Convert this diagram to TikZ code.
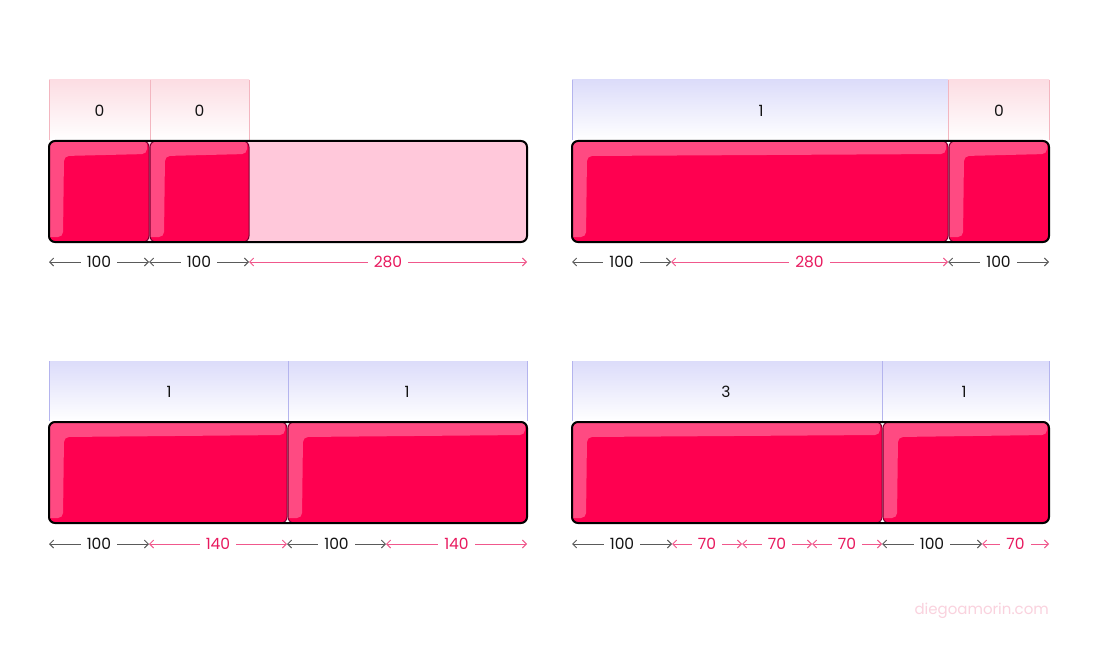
\documentclass[tikz,border=0pt]{standalone}
\usepackage{fontspec}
\setmainfont{Poppins}
\usetikzlibrary{arrows.meta}
\definecolor{mainred}{HTML}{FF0050}
\definecolor{hlred}{HTML}{FF4A82}
\definecolor{edgered}{HTML}{7A0030}
\definecolor{emptyfill}{HTML}{FFC8DA}
\definecolor{pinkhead}{HTML}{FCDDE3}
\definecolor{lavhead}{HTML}{DCDCFA}
\definecolor{pinkline}{HTML}{F3B6C0}
\definecolor{lavline}{HTML}{B4B4EE}
\definecolor{dimgray}{HTML}{5A5A5A}
\definecolor{dimpink}{HTML}{F0588C}
\definecolor{pinktext}{HTML}{E8195E}
\definecolor{wmark}{HTML}{FAD2DE}
\tikzset{
  lbl/.style={font=\fontsize{15.5}{15.5}\selectfont, text=black!92, inner sep=0},
  container/.style={draw=black, line width=2, rounded corners=6},
  itemedge/.style={draw=edgered, line width=1, rounded corners=6},
  dimblack/.style={draw=dimgray, line width=0.9, {Straight Barb[length=4,width=8]}-{Straight Barb[length=4,width=8]}},
  dimpinkst/.style={draw=dimpink, line width=0.9, {Straight Barb[length=4,width=8]}-{Straight Barb[length=4,width=8]}},
  dimtxt/.style={fill=white, inner xsep=6, inner ysep=1, font=\fontsize{15.5}{15.5}\selectfont},
}
% item: x1 y1 x2 y2
\newcommand\flexitem[4]{%
  \begin{scope}
    \clip[rounded corners=6] (#1,#2) rectangle (#3,#4);
    \fill[mainred] (#1,#2) rectangle (#3,#4);
    \fill[hlred, rounded corners=5] ({#1-6},{#2-6}) -- ({#3-2},{#2-6}) -- ({#3-2},{#2+13}) -- ({#1+15},{#2+15}) -- ({#1+14},{#4-5}) -- ({#1-6},{#4-5}) -- cycle;
  \end{scope}
  \draw[itemedge] (#1,#2) rectangle (#3,#4);
}
% header cell: x1 x2 y1 y2 colour
\newcommand\headcell[5]{%
  \shade[top color=#5, bottom color=white] (#1,#3) rectangle (#2,#4);
}
% dimension: id x1 x2 y label style textcolour
\newcommand\dimseg[7]{%
  \coordinate (#1a) at (#2,#4);
  \coordinate (#1b) at (#3,#4);
  \draw[#6] (#1a) -- node[dimtxt, text=#7] (#1t) {#5} (#1b);
}
\begin{document}
\begin{tikzpicture}[x=1pt,y=-1pt]
\useasboundingbox[fill=white] (0,0) rectangle (1100,650);

% ---------------- top left ----------------
\headcell{49}{150}{80}{140}{pinkhead}
\headcell{150}{249}{80}{140}{pinkhead}
\draw[pinkline, line width=0.8] (49,80) -- (49,140) (150,80) -- (150,140) (249,80) -- (249,140);
\node[lbl] (tl1) at (99.5,111) {0};
\node[lbl] (tl2) at (199.5,111) {0};
\fill[emptyfill, rounded corners=6] (49,141) rectangle (527,242);
\flexitem{49}{141}{149}{242}
\flexitem{150}{141}{249}{242}
\draw[container] (49,141) rectangle (527,242);
\dimseg{tla}{49}{149}{262}{100}{dimblack}{black!92}
\dimseg{tlb}{149}{249}{262}{100}{dimblack}{black!92}
\dimseg{tlc}{249}{527}{262}{280}{dimpinkst}{pinktext}

% ---------------- top right ----------------
\headcell{572}{948}{80}{140}{lavhead}
\headcell{948}{1049}{80}{140}{pinkhead}
\draw[lavline, line width=0.8] (572,80) -- (572,140);
\draw[pinkline, line width=0.8] (948,80) -- (948,140) (1049,80) -- (1049,140);
\node[lbl] (tr1) at (761,111) {1};
\node[lbl] (tr2) at (999,111) {0};
\flexitem{572}{141}{948}{242}
\flexitem{949}{141}{1049}{242}
\draw[container] (572,141) rectangle (1049,242);
\dimseg{tra}{572}{671}{262}{100}{dimblack}{black!92}
\dimseg{trb}{671}{948}{262}{280}{dimpinkst}{pinktext}
\dimseg{trc}{948}{1049}{262}{100}{dimblack}{black!92}

% ---------------- bottom left ----------------
\headcell{49}{288}{361}{421}{lavhead}
\headcell{288}{527}{361}{421}{lavhead}
\draw[lavline, line width=0.8] (49,361) -- (49,421) (288,361) -- (288,421) (527,361) -- (527,421);
\node[lbl] (bl1) at (169,392) {1};
\node[lbl] (bl2) at (407,392) {1};
\flexitem{49}{422}{287}{523}
\flexitem{288}{422}{527}{523}
\draw[container] (49,422) rectangle (527,523);
\dimseg{bla}{49}{149}{544}{100}{dimblack}{black!92}
\dimseg{blb}{149}{287}{544}{140}{dimpinkst}{pinktext}
\dimseg{blc}{287}{386}{544}{100}{dimblack}{black!92}
\dimseg{bld}{386}{527}{544}{140}{dimpinkst}{pinktext}

% ---------------- bottom right ----------------
\headcell{572}{882}{361}{421}{lavhead}
\headcell{882}{1049}{361}{421}{lavhead}
\draw[lavline, line width=0.8] (572,361) -- (572,421) (882,361) -- (882,421) (1049,361) -- (1049,421);
\node[lbl] (br1) at (726,392) {3};
\node[lbl] (br2) at (964,392) {1};
\flexitem{572}{422}{882}{523}
\flexitem{883}{422}{1049}{523}
\draw[container] (572,422) rectangle (1049,523);
\dimseg{bra}{572}{672}{544}{100}{dimblack}{black!92}
\dimseg{brb}{672}{742}{544}{70}{dimpinkst}{pinktext}
\dimseg{brc}{742}{812}{544}{70}{dimpinkst}{pinktext}
\dimseg{brd}{812}{882}{544}{70}{dimpinkst}{pinktext}
\dimseg{bre}{882}{982}{544}{100}{dimblack}{black!92}
\dimseg{brf}{982}{1049}{544}{70}{dimpinkst}{pinktext}

% watermark
\node[anchor=east, text=wmark, font=\fontsize{15}{15}\selectfont, inner sep=0] (wm) at (1049,611) {diegoamorin.com};
\end{tikzpicture}
\end{document}
